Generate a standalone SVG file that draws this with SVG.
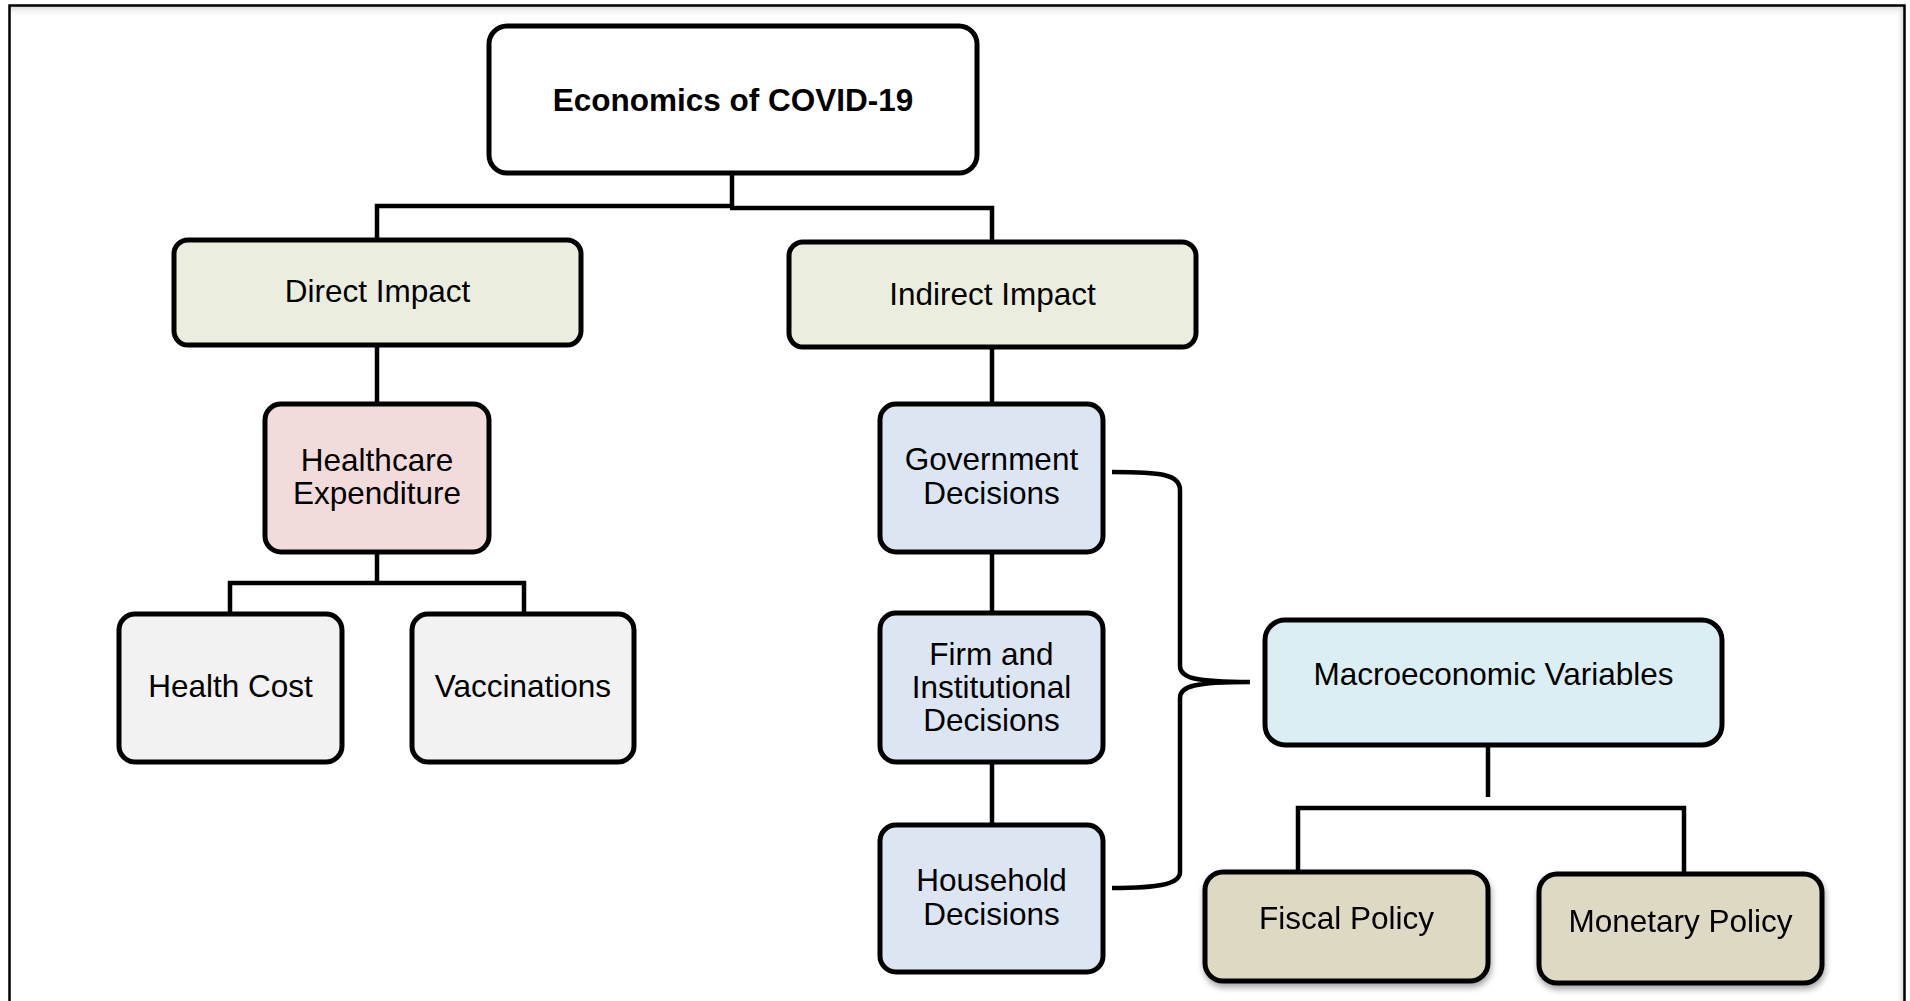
<svg xmlns="http://www.w3.org/2000/svg" width="1910" height="1001" viewBox="0 0 1910 1001">
  <defs>
    <style>
      .box { stroke: #000; stroke-width: 5; }
      .conn { fill: none; stroke: #000; stroke-width: 4.5; }
      .t { font-family: "Liberation Sans", Arial, sans-serif; font-size: 31.5px; fill: #000; text-anchor: middle; }
      .b { font-weight: bold; }
      .c-white { fill: #FFFFFF; }
      .c-green { fill: #EBEEDF; }
      .c-pink { fill: #F2DCDB; }
      .c-gray { fill: #F2F2F2; }
      .c-blue { fill: #DCE6F2; }
      .c-cyan { fill: #DBEEF4; }
      .c-tan { fill: #DDD9C3; }
    </style>
    <linearGradient id="shTop" x1="0" y1="0" x2="0" y2="1">
      <stop offset="0" stop-color="#d8d8d8"/>
      <stop offset="1" stop-color="#ffffff" stop-opacity="0"/>
    </linearGradient>
    <linearGradient id="shRight" x1="1" y1="0" x2="0" y2="0">
      <stop offset="0" stop-color="#d0d0d0"/>
      <stop offset="1" stop-color="#ffffff" stop-opacity="0"/>
    </linearGradient>
    <filter id="drop" x="-10%" y="-10%" width="125%" height="135%">
      <feGaussianBlur in="SourceAlpha" stdDeviation="3"/>
      <feOffset dx="1" dy="4" result="o"/>
      <feComponentTransfer><feFuncA type="linear" slope="0.35"/></feComponentTransfer>
      <feMerge><feMergeNode/><feMergeNode in="SourceGraphic"/></feMerge>
    </filter>
  </defs>

  <!-- frame -->
  <g id="frame">
    <rect x="0" y="0" width="1910" height="1001" fill="#ffffff"/>
    <rect x="10" y="6" width="1894" height="12" fill="url(#shTop)"/>
    <rect x="1896" y="6" width="8" height="1000" fill="url(#shRight)"/>
    <path d="M9.5,1010 L9.5,5.5 L1904.5,5.5 L1904.5,1010" fill="none" stroke="#000" stroke-width="2.5"/>
  </g>

  <g id="connectors">
    <path class="conn" d="M732,175 L732,207"/>
    <path class="conn" d="M734,206 L377,206 L377,240"/>
    <path class="conn" d="M730,208 L992,208 L992,242"/>
    <path class="conn" d="M377,347 L377,404"/>
    <path class="conn" d="M377,554 L377,583 M228,583 L526,583 M230,581 L230,614 M524,581 L524,614"/>
    <path class="conn" d="M992,349 L992,404"/>
    <path class="conn" d="M992,552 L992,613"/>
    <path class="conn" d="M992,762 L992,825"/>
    <path class="conn" d="M1112,472 C1160,472 1180,474 1180,490 L1180,666 C1180,678 1195,682 1250,682 C1195,682 1180,686 1180,698 L1180,872 C1180,884 1160,888 1112,888" stroke-width="5"/>
    <path class="conn" d="M1488,747 L1488,797"/>
    <path class="conn" d="M1298,870 L1298,808 L1684,808 L1684,874"/>
  </g>

  <g id="root">
    <rect class="box c-white" x="489" y="26" width="488" height="147" rx="18"/>
    <text class="t b" x="733" y="111">Economics of COVID-19</text>
  </g>

  <g id="direct-impact">
    <rect class="box c-green" x="174" y="240" width="407" height="105" rx="14"/>
    <text class="t" x="377.5" y="302">Direct Impact</text>
  </g>

  <g id="indirect-impact">
    <rect class="box c-green" x="789" y="242" width="407" height="105" rx="14"/>
    <text class="t" x="992.5" y="305">Indirect Impact</text>
  </g>

  <g id="healthcare-expenditure">
    <rect class="box c-pink" x="265" y="404" width="224" height="148" rx="16"/>
    <text class="t" x="377" y="471">Healthcare</text>
    <text class="t" x="377" y="504">Expenditure</text>
  </g>

  <g id="health-cost">
    <rect class="box c-gray" x="119" y="614" width="223" height="148" rx="16"/>
    <text class="t" x="230.5" y="697">Health Cost</text>
  </g>

  <g id="vaccinations">
    <rect class="box c-gray" x="412" y="614" width="222" height="148" rx="16"/>
    <text class="t" x="523" y="697">Vaccinations</text>
  </g>

  <g id="government-decisions">
    <rect class="box c-blue" x="880" y="404" width="223" height="148" rx="16"/>
    <text class="t" x="991.5" y="470">Government</text>
    <text class="t" x="991.5" y="504">Decisions</text>
  </g>

  <g id="firm-decisions">
    <rect class="box c-blue" x="880" y="613" width="223" height="149" rx="16"/>
    <text class="t" x="991.5" y="665">Firm and</text>
    <text class="t" x="991.5" y="698">Institutional</text>
    <text class="t" x="991.5" y="731">Decisions</text>
  </g>

  <g id="household-decisions">
    <rect class="box c-blue" x="880" y="825" width="223" height="147" rx="16"/>
    <text class="t" x="991.5" y="891">Household</text>
    <text class="t" x="991.5" y="925">Decisions</text>
  </g>

  <g id="macroeconomic-variables">
    <rect class="box c-cyan" x="1265" y="620" width="457" height="125" rx="20"/>
    <text class="t" x="1493.5" y="685">Macroeconomic Variables</text>
  </g>

  <g id="fiscal-policy" filter="url(#drop)">
    <rect class="box c-tan" x="1205" y="872" width="283" height="109" rx="18"/>
    <text class="t" x="1346.5" y="929">Fiscal Policy</text>
  </g>

  <g id="monetary-policy" filter="url(#drop)">
    <rect class="box c-tan" x="1539" y="874" width="283" height="109" rx="18"/>
    <text class="t" x="1680.5" y="932">Monetary Policy</text>
  </g>
</svg>
